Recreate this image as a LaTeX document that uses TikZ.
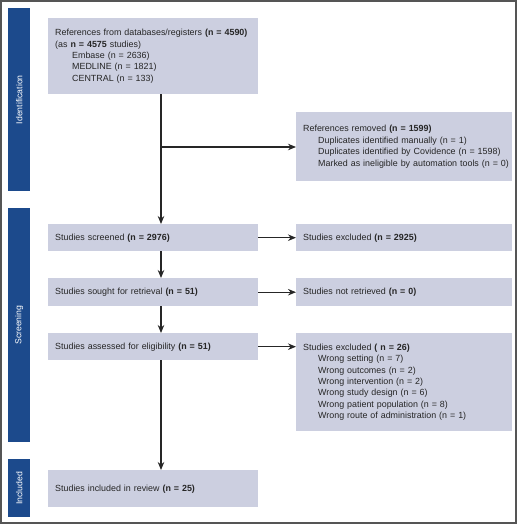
\documentclass[tikz,border=0pt]{standalone}
\usepackage{fontspec}
\setmainfont{Liberation Sans}
\usetikzlibrary{arrows.meta}
\definecolor{sidebar}{RGB}{28,74,140}
\definecolor{boxfill}{RGB}{204,207,224}
\definecolor{framegray}{RGB}{85,85,85}
\begin{document}
\begin{tikzpicture}[x=1pt,y=-1pt,
  box/.style={fill=boxfill, draw=none, anchor=north west, inner xsep=7pt, inner ysep=0pt,
    align=left, font=\fontsize{8.9}{11.4}\selectfont, text=black!85},
  side/.style={fill=sidebar, draw=none, anchor=north west, minimum width=22pt, inner sep=0pt},
  sidelabel/.style={text=white, rotate=90, font=\fontsize{8.7}{9}\selectfont},
  arr/.style={draw=black!85, line width=1.1pt, -{Stealth[length=8pt,width=6.5pt]}}]
\useasboundingbox (0,0) rectangle (520,525);
\draw[framegray, line width=1.6pt] (1,1) rectangle (516,523);
% sidebars
\node[side, minimum height=183pt] (sid) at (8,8) {};
\node[sidelabel] at (sid.center) {Identification};
\node[side, minimum height=234pt] (sscr) at (8,208) {};
\node[sidelabel] at (sscr.center) {Screening};
\node[side, minimum height=58pt] (sinc) at (8,459) {};
\node[sidelabel] at (sinc.center) {Included};
% boxes
\node[box, text width=196pt, minimum height=76pt] (top) at (48,18) {References from databases/registers \textbf{(n = 4590)}\\
(as \textbf{n = 4575} studies)\\
\hspace*{17pt}Embase (n = 2636)\\
\hspace*{17pt}MEDLINE (n = 1821)\\
\hspace*{17pt}CENTRAL (n = 133)};
\node[box, text width=202pt, minimum height=69pt] (removed) at (296,112) {References removed \textbf{(n = 1599)}\\
\hspace*{15pt}Duplicates identified manually (n = 1)\\
\hspace*{15pt}Duplicates identified by Covidence (n = 1598)\\
\hspace*{15pt}\mbox{Marked as ineligible by automation tools (n = 0)}};
\node[box, text width=196pt, minimum height=27pt] (screened) at (48,224) {Studies screened \textbf{(n = 2976)}};
\node[box, text width=202pt, minimum height=27pt] (excl) at (296,224) {Studies excluded \textbf{(n = 2925)}};
\node[box, text width=196pt, minimum height=28pt] (sought) at (48,278) {Studies sought for retrieval \textbf{(n = 51)}};
\node[box, text width=202pt, minimum height=28pt] (notret) at (296,278) {Studies not retrieved \textbf{(n = 0)}};
\node[box, text width=196pt, minimum height=27pt] (assessed) at (48,333) {Studies assessed for eligibility \textbf{(n = 51)}};
\node[box, text width=202pt, minimum height=98pt] (excl26) at (296,333) {Studies excluded \textbf{( n = 26)}\\
\hspace*{15pt}Wrong setting (n = 7)\\
\hspace*{15pt}Wrong outcomes (n = 2)\\
\hspace*{15pt}Wrong intervention (n = 2)\\
\hspace*{15pt}Wrong study design (n = 6)\\
\hspace*{15pt}Wrong patient population (n = 8)\\
\hspace*{15pt}Wrong route of administration (n = 1)};
\node[box, text width=196pt, minimum height=37pt] (included) at (48,470) {Studies included in review \textbf{(n = 25)}};
% connectors
\coordinate (spine) at (161,0);
\coordinate (branch) at (161,147);
\draw[arr] (top.south -| spine) -- (screened.north -| spine);
\draw[arr] (branch) -- (branch -| removed.west);
\draw[arr] (screened.south -| spine) -- (sought.north -| spine);
\draw[arr] (sought.south -| spine) -- (assessed.north -| spine);
\draw[arr] (assessed.south -| spine) -- (included.north -| spine);
\draw[arr] (screened.east) -- (excl.west);
\draw[arr] (sought.east) -- (notret.west);
\draw[arr] (assessed.east) -- (assessed.east -| excl26.west);
\end{tikzpicture}
\end{document}
